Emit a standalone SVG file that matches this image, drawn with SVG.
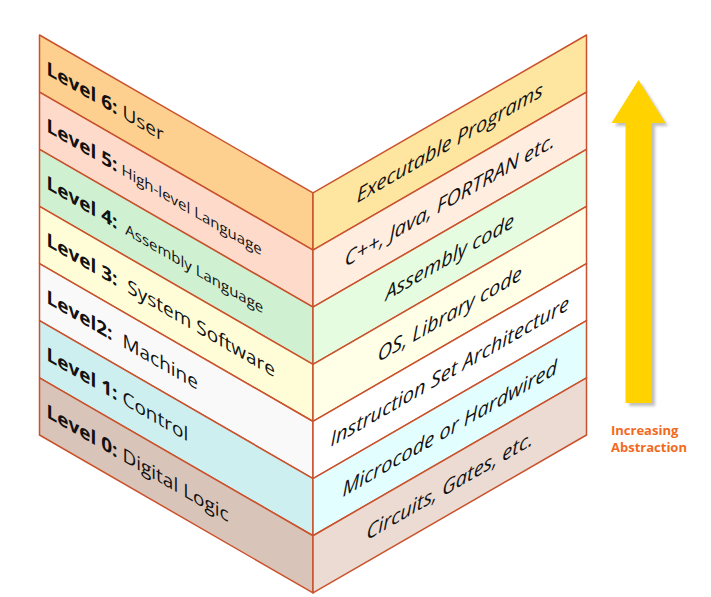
<svg xmlns="http://www.w3.org/2000/svg" width="711" height="597" viewBox="0 0 711 597">
  <style>
    .band { stroke: #C9522C; stroke-width: 1.5; vector-effect: non-scaling-stroke; stroke-linejoin: round; }
    .lbl { font-family: "Open Sans", "Noto Sans", sans-serif; font-size: 19px; fill: #111; }
    .lbl .b { font-weight: bold; }
    .lbl .sm { font-size: 15px; }
    .rlbl { font-family: "Open Sans", "Noto Sans", sans-serif; font-size: 20px; font-style: italic; fill: #111; text-anchor: middle; }
    .note { font-family: "Open Sans", "Noto Sans", sans-serif; font-size: 13px; font-weight: bold; fill: #F26A1E; }
  </style>
  <defs>
    <filter id="shadow" x="-30%" y="-10%" width="160%" height="120%">
      <feGaussianBlur stdDeviation="1.6"/>
    </filter>
  </defs>

  <!-- left face: oblique plane, skewed 30 degrees downward -->
  <g id="left-face" transform="matrix(1,0.57735,0,1,39.5,35)">
    <g id="level6-left">
      <rect class="band" x="0" y="0" width="273.5" height="57.143" fill="#FDD08F"/>
      <text class="lbl" x="7" y="35.2"><tspan class="b">Level 6:</tspan> User</text>
    </g>
    <g id="level5-left">
      <rect class="band" x="0" y="57.143" width="273.5" height="57.143" fill="#FDDACA"/>
      <text class="lbl" x="7" y="92.3"><tspan class="b">Level 5:</tspan><tspan class="sm"> High-level Language</tspan></text>
    </g>
    <g id="level4-left">
      <rect class="band" x="0" y="114.286" width="273.5" height="57.143" fill="#CFF0D1"/>
      <text class="lbl" x="7" y="149.5" xml:space="preserve"><tspan class="b">Level 4:</tspan><tspan class="sm">  Assembly Language</tspan></text>
    </g>
    <g id="level3-left">
      <rect class="band" x="0" y="171.429" width="273.5" height="57.143" fill="#FFFDD8"/>
      <text class="lbl" x="7" y="206.6" xml:space="preserve"><tspan class="b">Level 3:</tspan>  System Software</text>
    </g>
    <g id="level2-left">
      <rect class="band" x="0" y="228.571" width="273.5" height="57.143" fill="#F9F9F9"/>
      <text class="lbl" x="7" y="263.8" xml:space="preserve"><tspan class="b">Level2:</tspan>  Machine</text>
    </g>
    <g id="level1-left">
      <rect class="band" x="0" y="285.714" width="273.5" height="57.143" fill="#CDEFF0"/>
      <text class="lbl" x="7" y="320.9"><tspan class="b">Level 1:</tspan> Control</text>
    </g>
    <g id="level0-left">
      <rect class="band" x="0" y="342.857" width="273.5" height="57.143" fill="#D9C4B9"/>
      <text class="lbl" x="7" y="378"><tspan class="b">Level 0:</tspan> Digital Logic</text>
    </g>
  </g>

  <!-- right face: oblique plane, skewed 30 degrees upward -->
  <g id="right-face" transform="matrix(1,-0.57735,0,1,313,192.9)">
    <g id="level6-right">
      <rect class="band" x="0" y="0" width="273.5" height="57.143" fill="#FEE5A0"/>
      <text class="rlbl" x="136.75" y="35.6">Executable Programs</text>
    </g>
    <g id="level5-right">
      <rect class="band" x="0" y="57.143" width="273.5" height="57.143" fill="#FFEDE0"/>
      <text class="rlbl" x="136.75" y="92.7">C++, Java, FORTRAN etc.</text>
    </g>
    <g id="level4-right">
      <rect class="band" x="0" y="114.286" width="273.5" height="57.143" fill="#E6FCE0"/>
      <text class="rlbl" x="136.75" y="149.9">Assembly code</text>
    </g>
    <g id="level3-right">
      <rect class="band" x="0" y="171.429" width="273.5" height="57.143" fill="#FFFFE8"/>
      <text class="rlbl" x="136.75" y="207">OS, Library code</text>
    </g>
    <g id="level2-right">
      <rect class="band" x="0" y="228.571" width="273.5" height="57.143" fill="#FFFFFF"/>
      <text class="rlbl" x="136.75" y="264.2">Instruction Set Architecture</text>
    </g>
    <g id="level1-right">
      <rect class="band" x="0" y="285.714" width="273.5" height="57.143" fill="#E2FEFF"/>
      <text class="rlbl" x="136.75" y="321.3">Microcode or Hardwired</text>
    </g>
    <g id="level0-right">
      <rect class="band" x="0" y="342.857" width="273.5" height="57.143" fill="#EBDBD2"/>
      <text class="rlbl" x="136.75" y="378.4">Circuits, Gates, etc.</text>
    </g>
  </g>

  <!-- upward arrow with soft drop shadow -->
  <g id="abstraction-arrow">
    <polygon points="641,83 668,126 655,126 655,406 629,406 629,126 615,126" fill="#8A8A8A" opacity="0.55" filter="url(#shadow)"/>
    <polygon points="638.5,80 665.5,123 651.5,123 651.5,403 625.5,403 625.5,123 611.5,123" fill="#FFD200"/>
    <text class="note" x="611" y="435">Increasing</text>
    <text class="note" x="611" y="452">Abstraction</text>
  </g>
</svg>
